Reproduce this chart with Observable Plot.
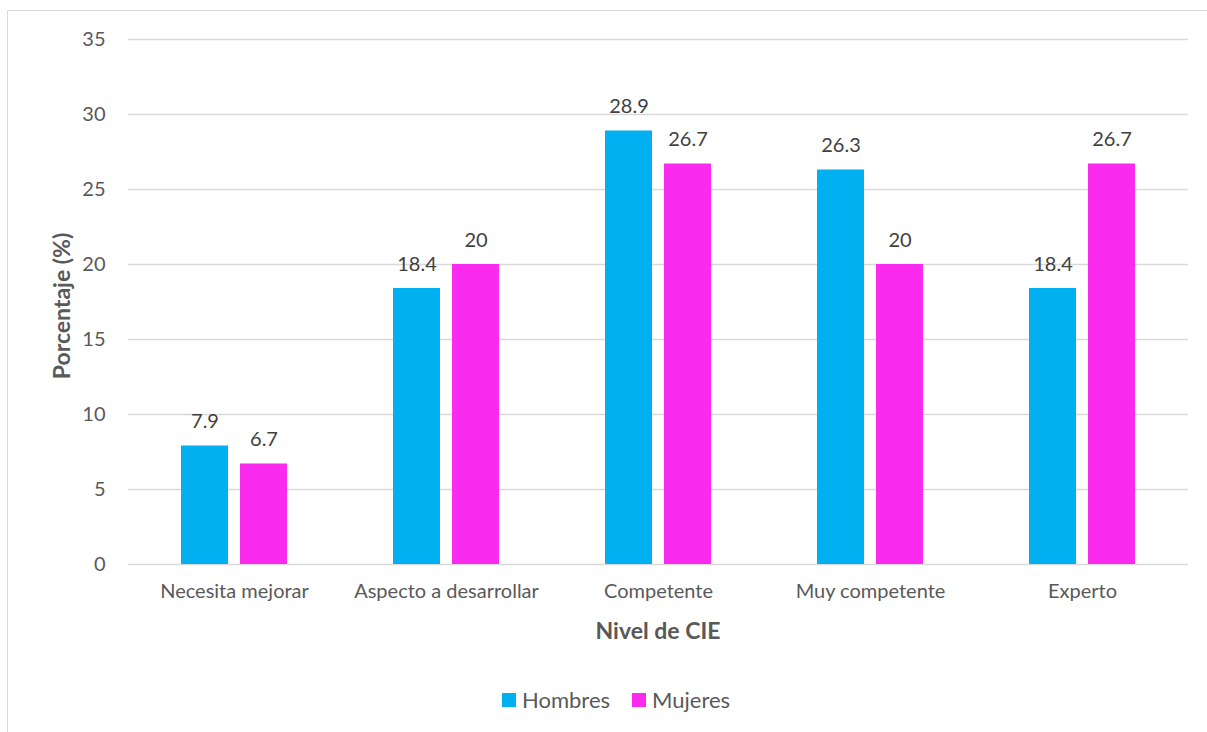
<!DOCTYPE html>
<html>
<head>
<meta charset="utf-8">
<script src="https://cdn.jsdelivr.net/npm/d3@7"></script>
<script src="https://cdn.jsdelivr.net/npm/@observablehq/plot@0.6"></script>
<style>
  html, body { margin: 0; padding: 0; background: #fff; }
  #wrap { position: relative; width: 1207px; height: 732px; overflow: hidden; font-family: Lato, "Open Sans", sans-serif; color: #595959; }
  #frame { position: absolute; left: 7px; top: 10px; width: 1300px; height: 800px; border-left: 1.5px solid #d9d9d9; border-top: 1.5px solid #d9d9d9; }
  #chart { position: absolute; left: 0; top: 0; }
  .ytitle { position: absolute; left: 61px; top: 306px; transform: translate(-50%, -50%) rotate(-90deg); font-weight: 700; font-size: 23px; white-space: nowrap; }
  .xtitle { position: absolute; left: 658px; top: 630px; transform: translate(-50%, -50%); font-weight: 700; font-size: 23px; white-space: nowrap; }
  #legend { position: absolute; left: 502px; top: 686px; display: flex; align-items: center; font-size: 22px; }
  .item { display: flex; align-items: center; margin-right: 22px; }
  .sw { width: 14px; height: 14px; margin-right: 6px; }
</style>
</head>
<body>
<div id="wrap">
  <div id="frame"></div>
  <div id="chart"></div>
  <div class="ytitle">Porcentaje (%)</div>
  <div class="xtitle">Nivel de CIE</div>
  <div id="legend"></div>
</div>
<script>
const categories = ["Necesita mejorar", "Aspecto a desarrollar", "Competente", "Muy competente", "Experto"];
const series = ["Hombres", "Mujeres"];
const hombres = [7.9, 18.4, 28.9, 26.3, 18.4];
const mujeres = [6.7, 20, 26.7, 20, 26.7];
const colors = ["#00B0F0", "#FA2BEF"];
const yTicks = [0, 5, 10, 15, 20, 25, 30, 35];

const data = [];
categories.forEach((c, i) => {
  data.push({cat: c, sex: series[0], value: hombres[i]});
  data.push({cat: c, sex: series[1], value: mujeres[i]});
});

const plot = Plot.plot({
  width: 1207,
  height: 660,
  marginTop: 39,
  marginBottom: 96,
  marginLeft: 128,
  marginRight: 19,
  style: {fontFamily: "Lato, 'Open Sans', sans-serif", fontSize: "20px", color: "#595959", background: "transparent"},
  fx: {domain: categories, paddingInner: 0, paddingOuter: 0, axis: null},
  x: {domain: series, paddingInner: 0.2, paddingOuter: 0.8667, axis: null},
  y: {domain: [0, 35], axis: null},
  color: {domain: series, range: colors},
  marks: [
    Plot.ruleY(yTicks, {stroke: "#d9d9d9", strokeWidth: 1.5}),
    Plot.axisY({ticks: yTicks, tickSize: 0, tickPadding: 23, label: null, fill: "#595959"}),
    Plot.axisFx({anchor: "bottom", tickSize: 0, tickPadding: 19, label: null, fill: "#595959"}),
    Plot.barY(data, {fx: "cat", x: "sex", y: "value", fill: "sex"}),
    Plot.text(data, {fx: "cat", x: "sex", y: "value", text: d => String(d.value), dy: -24, fill: "#404040"})
  ]
});
document.getElementById("chart").appendChild(plot);

const legend = document.getElementById("legend");
series.forEach((s, i) => {
  const it = document.createElement("div");
  it.className = "item";
  const sw = document.createElement("div");
  sw.className = "sw";
  sw.style.background = colors[i];
  const t = document.createElement("span");
  t.textContent = s;
  it.appendChild(sw);
  it.appendChild(t);
  legend.appendChild(it);
});
</script>
</body>
</html>
